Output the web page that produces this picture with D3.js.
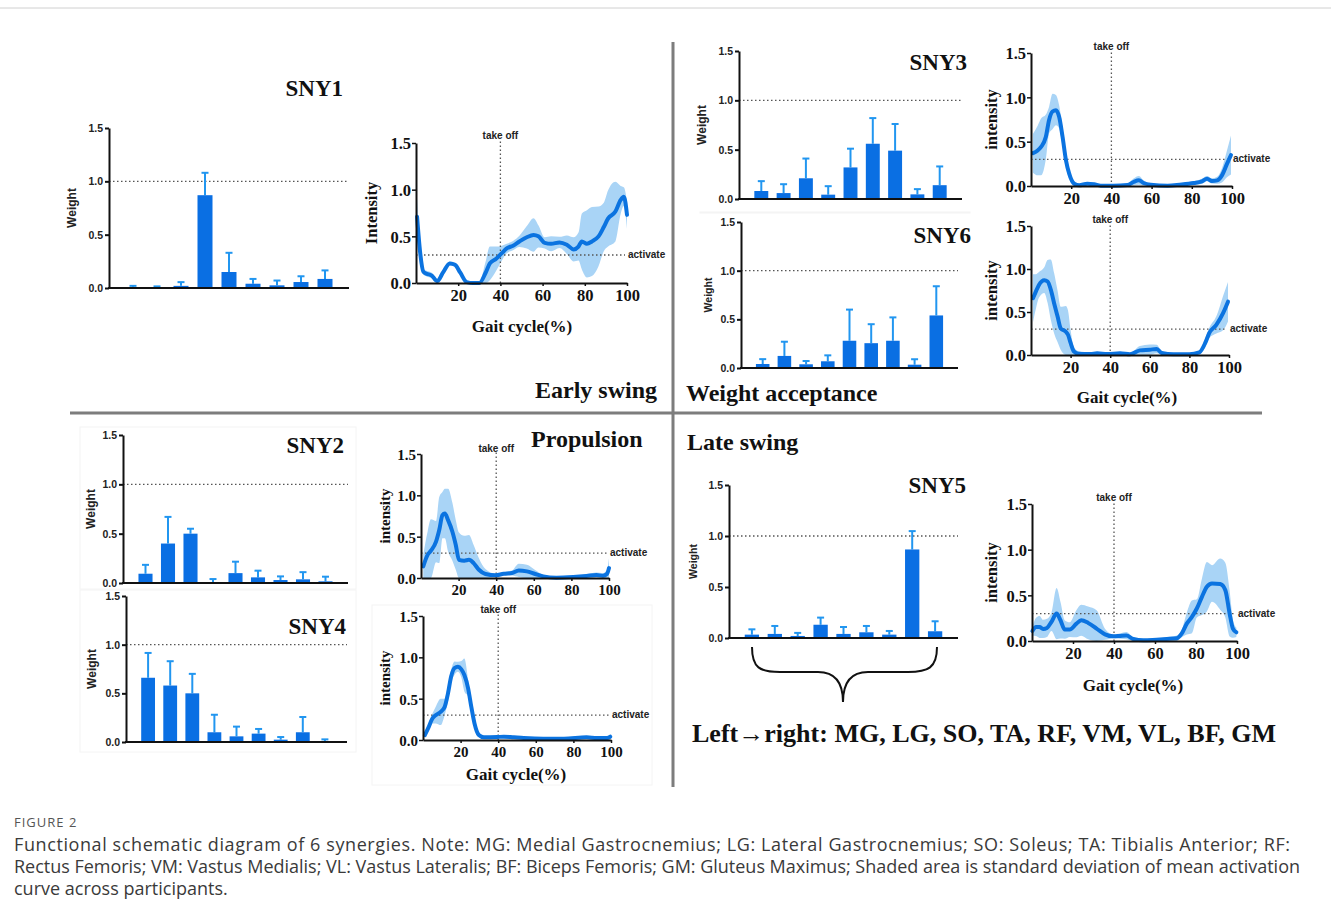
<!DOCTYPE html>
<html>
<head>
<meta charset="utf-8">
<script src="https://cdn.jsdelivr.net/npm/d3@7"></script>
<style>
body { margin: 0; background: #fff; }
.serif { font-family: "Times New Roman", "Liberation Serif", serif; font-weight: bold; }
.sans { font-family: Arial, "Liberation Sans", sans-serif; font-weight: bold; }
</style>
</head>
<body>
<svg id="fig" width="1331" height="923"></svg>
<script>
// muscles, left to right
const muscles = ['MG', 'LG', 'SO', 'TA', 'RF', 'VM', 'VL', 'BF', 'GM'];
const weightTicks = [0, 0.5, 1, 1.5];
const gaitTicks = [20, 40, 60, 80, 100];
const takeOff = 40;
const activateLevel = 0.3;

// muscle weights (mean) and SD per synergy
const sny1Weight = [0.005, 0.005, 0.02, 0.87, 0.15, 0.04, 0.025, 0.056, 0.085];
const sny1Sd     = [0.015, 0.01, 0.035, 0.21, 0.18, 0.045, 0.045, 0.054, 0.08];
const sny2Weight = [0.094, 0.40, 0.50, 0.01, 0.10, 0.057, 0.03, 0.037, 0.017];
const sny2Sd     = [0.09, 0.27, 0.05, 0.03, 0.116, 0.068, 0.037, 0.073, 0.047];
const sny3Weight = [0.081, 0.06, 0.21, 0.044, 0.32, 0.56, 0.49, 0.047, 0.14];
const sny3Sd     = [0.10, 0.09, 0.20, 0.086, 0.19, 0.26, 0.27, 0.053, 0.19];
const sny4Weight = [0.66, 0.58, 0.50, 0.10, 0.058, 0.086, 0.024, 0.10, 0.007];
const sny4Sd     = [0.255, 0.25, 0.20, 0.18, 0.10, 0.048, 0.027, 0.157, 0.02];
const sny5Weight = [0.033, 0.04, 0.02, 0.13, 0.04, 0.056, 0.033, 0.868, 0.066];
const sny5Sd     = [0.052, 0.078, 0.03, 0.07, 0.068, 0.062, 0.036, 0.18, 0.098];
const sny6Weight = [0.041, 0.124, 0.038, 0.069, 0.28, 0.255, 0.28, 0.034, 0.54];
const sny6Sd     = [0.05, 0.146, 0.034, 0.061, 0.32, 0.195, 0.24, 0.056, 0.30];

// activation curves: [gait cycle %, mean intensity, sd]
const sny1Curve = [
  [0.5, 0.71, 0.2], [2, 0.32, 0.06], [3.5, 0.12, 0.03], [5, 0.10, 0.03], [7.5, 0.08, 0.03],
  [10, 0.02, 0.02], [13, 0.12, 0.02], [16, 0.21, 0.02], [18.5, 0.195, 0.02], [21, 0.11, 0.02],
  [24, 0.01, 0.01], [27, 0.0, 0.01], [30, 0.0, 0.01], [33, 0.11, 0.12], [35, 0.21, 0.18],
  [38, 0.26, 0.13], [40.7, 0.32, 0.08], [43, 0.37, 0.05], [46, 0.40, 0.05], [49, 0.445, 0.06],
  [52.5, 0.49, 0.12], [55.7, 0.515, 0.18], [58, 0.50, 0.12], [61, 0.43, 0.06], [64, 0.42, 0.08],
  [68, 0.435, 0.06], [71.5, 0.41, 0.1], [74.7, 0.36, 0.13], [77, 0.39, 0.15], [78.6, 0.445, 0.3],
  [81, 0.42, 0.36], [83.4, 0.445, 0.37], [86.5, 0.50, 0.32], [89, 0.60, 0.26], [91, 0.69, 0.3],
  [94.5, 0.765, 0.32], [97, 0.89, 0.15], [98.5, 0.925, 0.1], [100, 0.73, 0.15]
];
const sny2Curve = [
  [1.2, 0.14, 0.14], [3.5, 0.28, 0.28], [5.3, 0.33, 0.38], [8, 0.44, 0.25], [9.7, 0.58, 0.4],
  [11.4, 0.76, 0.28], [12.7, 0.78, 0.3], [14.4, 0.70, 0.38], [16.7, 0.56, 0.35], [18.5, 0.40, 0.3],
  [20.2, 0.22, 0.33], [23, 0.21, 0.3], [25.5, 0.22, 0.3], [28, 0.18, 0.22], [30.8, 0.10, 0.14],
  [34.3, 0.048, 0.06], [39.6, 0.032, 0.02], [44, 0.052, 0.02], [48.4, 0.06, 0.03], [52, 0.092, 0.08],
  [56.3, 0.08, 0.08], [60.7, 0.048, 0.05], [65, 0.02, 0.02], [72, 0.004, 0.01], [81, 0.012, 0.01],
  [88, 0.024, 0.02], [93.3, 0.036, 0.03], [96.8, 0.028, 0.03], [99, 0.052, 0.05], [100, 0.12, 0.12]
];
const sny3Curve = [
  [1, 0.37, 0.22], [3.3, 0.40, 0.28], [5, 0.44, 0.32], [7.4, 0.555, 0.25], [9, 0.745, 0.15],
  [10.7, 0.84, 0.2], [12.4, 0.855, 0.17], [14, 0.78, 0.13], [15.7, 0.555, 0.1], [17.4, 0.29, 0.08],
  [19, 0.14, 0.05], [21.5, 0.026, 0.02], [24, 0.008, 0.01], [28, 0.026, 0.02], [31.4, 0.019, 0.01],
  [34.7, 0.004, 0.005], [41, 0.004, 0.005], [48, 0.01, 0.01], [51, 0.045, 0.04], [53.7, 0.064, 0.05],
  [56, 0.034, 0.03], [59.5, 0.015, 0.01], [68, 0.004, 0.005], [74, 0.015, 0.01], [81, 0.034, 0.02],
  [85, 0.053, 0.03], [87.6, 0.083, 0.03], [90, 0.057, 0.03], [92.6, 0.064, 0.04], [95, 0.12, 0.08],
  [97.5, 0.25, 0.15], [99.5, 0.35, 0.22]
];
const sny4Curve = [
  [1, 0.06, 0.03], [2.7, 0.14, 0.04], [5, 0.26, 0.06], [6.7, 0.30, 0.1], [9.4, 0.34, 0.16],
  [11.5, 0.40, 0.1], [13.3, 0.565, 0.1], [15, 0.77, 0.08], [16.8, 0.87, 0.08], [18.6, 0.887, 0.06],
  [20.4, 0.855, 0.1], [22, 0.786, 0.2], [24, 0.625, 0.1], [25.7, 0.40, 0.05], [27.4, 0.20, 0.04],
  [29.7, 0.06, 0.02], [32.4, 0.032, 0.01], [39.5, 0.036, 0.01], [43, 0.04, 0.01], [48.3, 0.032, 0.01],
  [53.6, 0.024, 0.01], [64, 0.016, 0.01], [75, 0.016, 0.01], [87, 0.032, 0.01], [92.6, 0.024, 0.01],
  [97.9, 0.024, 0.01], [99.6, 0.04, 0.02]
];
const sny5Curve = [
  [0.2, 0.11, 0.05], [2, 0.154, 0.1], [3.7, 0.154, 0.12], [5.4, 0.132, 0.1], [7.3, 0.143, 0.1],
  [9.5, 0.21, 0.1], [12, 0.30, 0.28], [13.9, 0.227, 0.2], [16, 0.125, 0.1], [18.4, 0.125, 0.08],
  [21.7, 0.19, 0.15], [24, 0.227, 0.17], [27.4, 0.198, 0.18], [31.5, 0.136, 0.2], [35.6, 0.073, 0.06],
  [39.6, 0.051, 0.02], [43, 0.055, 0.03], [46, 0.059, 0.04], [49.4, 0.022, 0.02], [54.3, 0.007, 0.01],
  [60.8, 0.015, 0.01], [65.7, 0.022, 0.02], [70.6, 0.03, 0.03], [73, 0.08, 0.04], [75.5, 0.19, 0.12],
  [78, 0.264, 0.18], [80.4, 0.356, 0.1], [82.9, 0.484, 0.2], [85.3, 0.594, 0.27], [87.8, 0.63, 0.2],
  [91.8, 0.623, 0.28], [94.3, 0.557, 0.3], [96.4, 0.30, 0.25], [98, 0.136, 0.1], [99.7, 0.095, 0.05]
];
const sny6Curve = [
  [1, 0.66, 0.28], [2.5, 0.74, 0.2], [4, 0.815, 0.15], [6.7, 0.87, 0.15], [8.4, 0.855, 0.25],
  [10, 0.76, 0.35], [11.7, 0.60, 0.35], [13.4, 0.45, 0.3], [15, 0.31, 0.25], [17.6, 0.27, 0.3],
  [18.7, 0.236, 0.28], [20, 0.14, 0.15], [21.7, 0.04, 0.05], [24, 0.015, 0.03], [30, 0.012, 0.01],
  [33.4, 0.02, 0.01], [38.5, 0.012, 0.01], [45, 0.02, 0.01], [50, 0.008, 0.01], [55, 0.054, 0.05],
  [60, 0.062, 0.06], [63.5, 0.07, 0.05], [66, 0.023, 0.02], [72, 0.008, 0.005], [80, 0.008, 0.005],
  [85, 0.03, 0.02], [88, 0.14, 0.05], [90, 0.255, 0.06], [93.6, 0.35, 0.1], [97, 0.487, 0.2],
  [99.5, 0.62, 0.23]
];

const barBlue = '#0a6fe3';
const errBlue = '#2196f0';
const lineBlue = '#0b73e0';
const bandBlue = '#a9d4f6';

const svg = d3.select('#fig');

// frame lines
svg.append('line').attr('x1', 0).attr('x2', 1331).attr('y1', 8).attr('y2', 8)
  .attr('stroke', '#d0d0d0').attr('stroke-width', 1);
svg.append('line').attr('x1', 673).attr('x2', 673).attr('y1', 42).attr('y2', 787)
  .attr('stroke', '#7d7d7d').attr('stroke-width', 3);
svg.append('line').attr('x1', 70).attr('x2', 1262).attr('y1', 413).attr('y2', 413)
  .attr('stroke', '#7d7d7d').attr('stroke-width', 3);

function dotted(g) {
  return g.attr('stroke', '#555').attr('stroke-width', 1.3).attr('stroke-dasharray', '1.5,2.5');
}

function barPanel(o, mean, sd) {
  const x = d3.scaleBand().domain(muscles).range([o.x0, o.x1])
    .paddingInner(0.375).paddingOuter(0.6875);
  const y = d3.scaleLinear().domain([0, 1.5]).range([o.y0, o.y1]);
  const g = svg.append('g');
  const rows = muscles.map((m, i) => ({m: m, v: mean[i], s: sd[i]}));
  const bw = x.bandwidth();

  dotted(g.append('line').attr('x1', o.x0).attr('x2', o.x1).attr('y1', y(1)).attr('y2', y(1)));

  g.selectAll('.err').data(rows).enter().append('line')
    .attr('x1', d => x(d.m) + bw / 2).attr('x2', d => x(d.m) + bw / 2)
    .attr('y1', d => y(d.v)).attr('y2', d => y(d.v + d.s))
    .attr('stroke', errBlue).attr('stroke-width', 2);
  g.selectAll('.cap').data(rows).enter().append('line')
    .attr('x1', d => x(d.m) + bw / 2 - 3.5).attr('x2', d => x(d.m) + bw / 2 + 3.5)
    .attr('y1', d => y(d.v + d.s)).attr('y2', d => y(d.v + d.s))
    .attr('stroke', errBlue).attr('stroke-width', 2);
  g.selectAll('.bar').data(rows).enter().append('rect')
    .attr('x', d => x(d.m)).attr('width', bw)
    .attr('y', d => y(d.v)).attr('height', d => y(0) - y(d.v))
    .attr('fill', barBlue);

  const ya = g.append('g').attr('transform', `translate(${o.x0},0)`)
    .call(d3.axisLeft(y).tickValues(weightTicks).tickFormat(d3.format('.1f')).tickSize(4).tickSizeOuter(0));
  ya.select('.domain').attr('stroke', '#111').attr('stroke-width', 2);
  ya.selectAll('.tick line').attr('stroke', '#111').attr('stroke-width', 2);
  ya.selectAll('.tick text').attr('class', 'sans').attr('font-size', 10.5).attr('fill', '#222').attr('x', -6);
  ya.attr('font-family', null);
  g.append('line').attr('x1', o.x0 - 1).attr('x2', o.x1).attr('y1', y(0)).attr('y2', y(0))
    .attr('stroke', '#111').attr('stroke-width', 2.2);

  g.append('text').attr('class', 'sans').attr('font-size', o.wf || 12).attr('fill', '#222')
    .attr('text-anchor', 'middle')
    .attr('transform', `translate(${o.wx},${(o.y0 + o.y1) / 2}) rotate(-90)`).text('Weight');
  g.append('text').attr('class', 'serif').attr('font-size', 23).attr('fill', '#111')
    .attr('text-anchor', 'end').attr('x', o.tx).attr('y', o.ty).text(o.title);
}

function linePanel(o, curve) {
  const x = d3.scaleLinear().domain([0, 100]).range([o.x0, o.x1]);
  const y = d3.scaleLinear().domain([0, 1.5]).range([o.y0, o.y1]);
  const g = svg.append('g');
  const fs = o.fs || 16.5;

  const area = d3.area().curve(d3.curveMonotoneX)
    .x(d => x(d[0])).y0(d => y(Math.max(0, d[1] - d[2]))).y1(d => y(d[1] + d[2]));
  g.append('path').datum(curve).attr('d', area).attr('fill', bandBlue);

  dotted(g.append('line').attr('x1', x(takeOff)).attr('x2', x(takeOff)).attr('y1', y(0)).attr('y2', o.y1 - 2));
  dotted(g.append('line').attr('x1', x(0)).attr('x2', x(100) - 2).attr('y1', y(activateLevel)).attr('y2', y(activateLevel)));

  const line = d3.line().curve(d3.curveMonotoneX).x(d => x(d[0])).y(d => y(d[1]));
  g.append('path').datum(curve).attr('d', line).attr('fill', 'none')
    .attr('stroke', lineBlue).attr('stroke-width', 4).attr('stroke-linejoin', 'round').attr('stroke-linecap', 'round');

  const ya = g.append('g').attr('transform', `translate(${x(0)},0)`)
    .call(d3.axisLeft(y).tickValues(weightTicks).tickFormat(d3.format('.1f')).tickSize(4).tickSizeOuter(0));
  const xa = g.append('g').attr('transform', `translate(0,${y(0)})`)
    .call(d3.axisBottom(x).tickValues(gaitTicks).tickSize(3).tickSizeOuter(0));
  [ya, xa].forEach(a => {
    a.attr('font-family', null);
    a.select('.domain').attr('stroke', '#111').attr('stroke-width', 2);
    a.selectAll('.tick line').attr('stroke', '#111').attr('stroke-width', 1.5);
    a.selectAll('.tick text').attr('class', 'serif').attr('font-size', fs).attr('fill', '#111');
  });
  ya.selectAll('.tick text').attr('x', -5).attr('dy', '0.36em');
  xa.selectAll('.tick text').attr('y', 6);

  g.append('text').attr('class', 'serif').attr('font-size', fs).attr('fill', '#111')
    .attr('text-anchor', 'middle')
    .attr('transform', `translate(${o.lx},${(o.y0 + o.y1) / 2}) rotate(-90)`).text(o.ylabel || 'intensity');
  g.append('text').attr('class', 'sans').attr('font-size', 10).attr('fill', '#222')
    .attr('text-anchor', 'middle').attr('x', x(takeOff)).attr('y', o.toy).text('take off');
  g.append('text').attr('class', 'sans').attr('font-size', 10).attr('fill', '#222')
    .attr('x', x(100) + 1).attr('y', y(activateLevel) + 3).text('activate');
  if (o.gx) {
    g.append('text').attr('class', 'serif').attr('font-size', 17).attr('fill', '#111')
      .attr('text-anchor', 'middle').attr('x', o.gx).attr('y', o.gy).text('Gait cycle(%)');
  }
}

// faint panel boxes
[[80, 427, 276, 162], [80, 590, 276, 162], [372, 605, 280, 180], [700, 212, 270, 1]].forEach(b => {
  svg.append('rect').attr('x', b[0]).attr('y', b[1]).attr('width', b[2]).attr('height', b[3])
    .attr('fill', 'none').attr('stroke', '#f4f4f4');
});

barPanel({x0: 109, x1: 349, y0: 288, y1: 128, wx: 76, tx: 343, ty: 96, title: 'SNY1'}, sny1Weight, sny1Sd);
barPanel({x0: 739, x1: 962, y0: 199, y1: 51, wx: 706, tx: 967, ty: 70, title: 'SNY3'}, sny3Weight, sny3Sd);
barPanel({x0: 741, x1: 958, y0: 368, y1: 222, wx: 712, wf: 10.5, tx: 971, ty: 243, title: 'SNY6'}, sny6Weight, sny6Sd);
barPanel({x0: 123, x1: 348, y0: 583, y1: 435, wx: 95, tx: 344, ty: 453, title: 'SNY2'}, sny2Weight, sny2Sd);
barPanel({x0: 126, x1: 347, y0: 742, y1: 596, wx: 96, tx: 346, ty: 634, title: 'SNY4'}, sny4Weight, sny4Sd);
barPanel({x0: 729, x1: 958, y0: 638, y1: 485, wx: 697, wf: 10.5, tx: 966, ty: 493, title: 'SNY5'}, sny5Weight, sny5Sd);

linePanel({x0: 416, x1: 627, y0: 283, y1: 143, lx: 377, toy: 139, gx: 522, gy: 332, ylabel: 'Intensity'}, sny1Curve);
linePanel({x0: 1031, x1: 1232, y0: 186, y1: 53, lx: 997, toy: 50}, sny3Curve);
linePanel({x0: 1031, x1: 1229, y0: 355, y1: 226, lx: 997, toy: 223, gx: 1127, gy: 403}, sny6Curve);
linePanel({x0: 421, x1: 609, y0: 578, y1: 454, lx: 390, toy: 452, fs: 15}, sny2Curve);
linePanel({x0: 423, x1: 611, y0: 740, y1: 616, lx: 390, toy: 613, fs: 15, gx: 516, gy: 780}, sny4Curve);
linePanel({x0: 1032, x1: 1237, y0: 641, y1: 504, lx: 997, toy: 501, gx: 1133, gy: 691}, sny5Curve);

// phase labels
const phase = [['Early swing', 657, 398, 'end'], ['Weight acceptance', 686, 401, 'start'],
  ['Propulsion', 531, 447, 'start'], ['Late swing', 687, 450, 'start']];
phase.forEach(p => {
  svg.append('text').attr('class', 'serif').attr('font-size', 24).attr('fill', '#111')
    .attr('x', p[1]).attr('y', p[2]).attr('text-anchor', p[3]).text(p[0]);
});

// brace under SNY5 bars
svg.append('path')
  .attr('d', 'M752,647 C752,668 760,672 780,672 L818,672 C836,672 843,684 843,702 C843,684 850,672 868,672 L908,672 C928,672 937,668 937,647')
  .attr('fill', 'none').attr('stroke', '#111').attr('stroke-width', 2);
svg.append('text').attr('class', 'serif').attr('font-size', 25).attr('fill', '#111')
  .attr('x', 692).attr('y', 742).attr('textLength', 584).attr('lengthAdjust', 'spacingAndGlyphs')
  .text('Left\u2192right: ' + muscles.join(', '));

// caption
svg.append('text').attr('x', 14).attr('y', 827).attr('font-family', '"Open Sans", sans-serif')
  .attr('font-size', 13).attr('letter-spacing', 1).attr('fill', '#555').text('FIGURE 2');
const caption = [
  'Functional schematic diagram of 6 synergies. Note: MG: Medial Gastrocnemius; LG: Lateral Gastrocnemius; SO: Soleus; TA: Tibialis Anterior; RF:',
  'Rectus Femoris; VM: Vastus Medialis; VL: Vastus Lateralis; BF: Biceps Femoris; GM: Gluteus Maximus; Shaded area is standard deviation of mean activation',
  'curve across participants.'
];
const captionWidth = [1276, 1286, null];
svg.selectAll('.cap-line').data(caption).enter().append('text')
  .attr('x', 14).attr('y', (d, i) => 851 + i * 22)
  .attr('font-family', '"Open Sans", sans-serif').attr('font-size', 18).attr('fill', '#3a3a3a')
  .attr('textLength', (d, i) => captionWidth[i])
  .attr('lengthAdjust', 'spacing')
  .text(d => d);
</script>
</body>
</html>
